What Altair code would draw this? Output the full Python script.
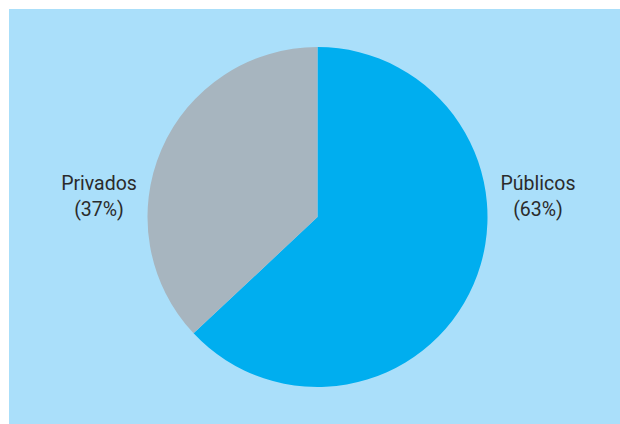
import altair as alt
import pandas as pd

categories = ["Públicos", "Privados"]
values = [63, 37]
colors = ["#00aeef", "#a7b5bf"]

df = pd.DataFrame({
    "cat": categories,
    "val": values,
    "order": [0, 1],
    "pct": [f"({v}%)" for v in values],
})

base = alt.Chart(df)

pie = base.mark_arc(outerRadius=170, stroke=None).encode(
    theta=alt.Theta("val:Q", stack=True),
    order=alt.Order("order:Q"),
    color=alt.Color("cat:N", scale=alt.Scale(domain=categories, range=colors), legend=None),
    x=alt.value(308.5),
    y=alt.value(208),
)

txt_style = dict(font="Roboto", fontSize=19.5, color="#2b2b2b", align="center", baseline="middle")

pub_name = base.transform_filter(alt.datum.cat == "Públicos").mark_text(**txt_style).encode(
    text="cat:N", x=alt.value(529), y=alt.value(175))
pub_pct = base.transform_filter(alt.datum.cat == "Públicos").mark_text(**txt_style).encode(
    text="pct:N", x=alt.value(529), y=alt.value(201))
pri_name = base.transform_filter(alt.datum.cat == "Privados").mark_text(**txt_style).encode(
    text="cat:N", x=alt.value(90), y=alt.value(175))
pri_pct = base.transform_filter(alt.datum.cat == "Privados").mark_text(**txt_style).encode(
    text="pct:N", x=alt.value(90), y=alt.value(201))

chart = alt.layer(pie, pub_name, pub_pct, pri_name, pri_pct).properties(
    width=620, height=424,
    autosize=alt.AutoSizeParams(type="fit", contains="padding"),
    padding={"left": 9, "top": 9, "right": 0, "bottom": 0},
    background="white",
).configure_view(fill="#aadffa", stroke=None)

chart.save("out.html", embed_options={"renderer": "svg", "actions": False})
